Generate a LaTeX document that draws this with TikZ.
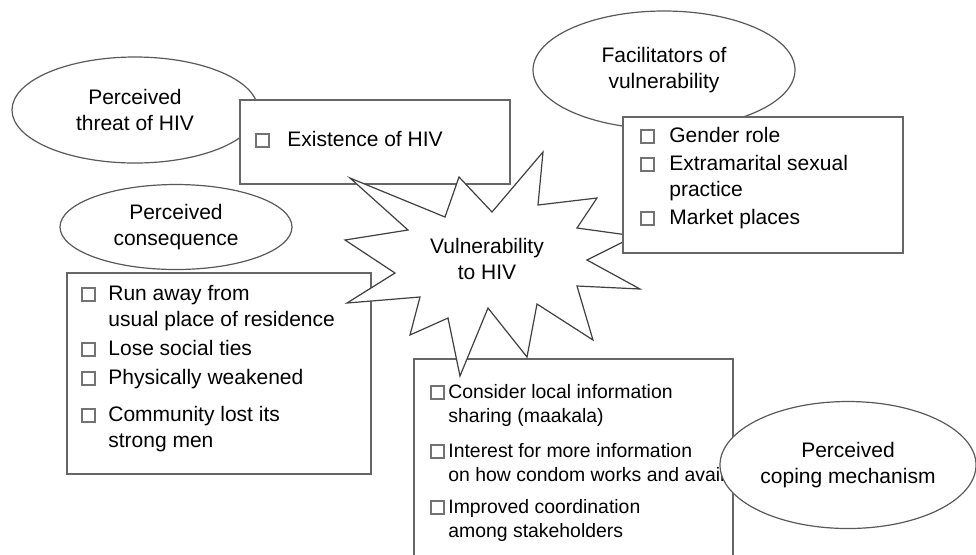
\documentclass[tikz,border=0pt]{standalone}
\usepackage{fontspec}
\setmainfont{Liberation Sans}
\usetikzlibrary{shapes.geometric}

\newcommand{\chk}{{\color{black!55}\setlength\fboxsep{0pt}\setlength\fboxrule{0.8pt}\fbox{\rule{0pt}{5.6pt}\hspace{5.6pt}}}}
\newcommand{\itm}[2]{\chk\hspace{#1}\begin{tabular}[t]{@{}l@{}}#2\end{tabular}}

\begin{document}
\begin{tikzpicture}[x=0.5pt, y=-0.5pt,
		every node/.style={font=\fontsize{10.5}{13}\selectfont},
		bubble/.style={draw=black!65, fill=white, ellipse, line width=0.6pt, inner sep=0pt, align=center},
		panel/.style={draw=black!60, fill=white, rectangle, line width=0.8pt, inner sep=0pt},
		entry/.style={anchor=base west, inner sep=0pt},
		small/.style={font=\fontsize{9.7}{12}\selectfont},
		burst/.style={draw=black!75, fill=white, line width=0.6pt, line join=miter}]
		\useasboundingbox (0,0) rectangle (976,554);
		\clip (0,0) rectangle (976,554);
		
		% threat
		\node[bubble, minimum width=123pt, minimum height=53pt] (threat) at (135,110) {Perceived\\threat of HIV};
		\node[panel, minimum width=135pt, minimum height=42pt] (threatbox) at (375,142) {};
		\node[entry] (t1) at (255,146) {\itm{8.8pt}{Existence of HIV}};
		
		% facilitators
		\node[bubble, minimum width=131pt, minimum height=59pt] (facil) at (664,70) {Facilitators of\\vulnerability};
		
		% consequence
		\node[bubble, minimum width=116pt, minimum height=42.5pt] (conseq) at (176,227) {Perceived\\consequence};
		\node[panel, minimum width=152pt, minimum height=100.5pt] (conseqbox) at (219,373.5) {};
		\node[entry] (c1) at (81,300) {\itm{6.3pt}{Run away from\\usual place of residence}};
		\node[entry] (c2) at (81,355) {\itm{6.3pt}{Lose social ties}};
		\node[entry] (c3) at (81,384) {\itm{6.3pt}{Physically weakened}};
		\node[entry] (c4) at (81,421) {\itm{6.3pt}{Community lost its\\strong men}};
		
		% coping
		\node[panel, minimum width=159.5pt, minimum height=120pt] (copingbox) at (573.5,479) {};
		\node[entry, small] (m1) at (430,398) {\itm{1.8pt}{Consider local information\\sharing (maakala)}};
		\node[entry, small] (m2) at (430,457) {\itm{1.8pt}{Interest for more information\\on how condom works and avail}};
		\node[entry, small] (m3) at (430,513) {\itm{1.8pt}{Improved coordination\\among stakeholders}};
		
		% vulnerability
		\draw[burst] (350,178) -- (445,217) -- (459,177) -- (492,212) -- (543,152) -- (538,205)
			-- (597,198) -- (577,228) -- (635,236) -- (587,260) -- (640,289) -- (577,286)
			-- (593,340) -- (537,304) -- (527,357) -- (488,308) -- (460,376) -- (448,318)
			-- (410,335) -- (420,297) -- (347,303) -- (395,273) -- (345,240) -- (408,230) -- cycle;
		\node[align=center] (vuln) at (487,259) {Vulnerability\\to HIV};
		
		\node[panel, minimum width=140pt, minimum height=68pt] (facilbox) at (763,185) {};
		\node[entry] (f1) at (640,142) {\itm{7.3pt}{Gender role}};
		\node[entry] (f2) at (640,170) {\itm{7.3pt}{Extramarital sexual\\practice}};
		\node[entry] (f3) at (640,224) {\itm{7.3pt}{Market places}};
		
		\node[bubble, minimum width=128pt, minimum height=63.5pt] (coping) at (848,465) {Perceived\\coping mechanism};
\end{tikzpicture}
\end{document}
